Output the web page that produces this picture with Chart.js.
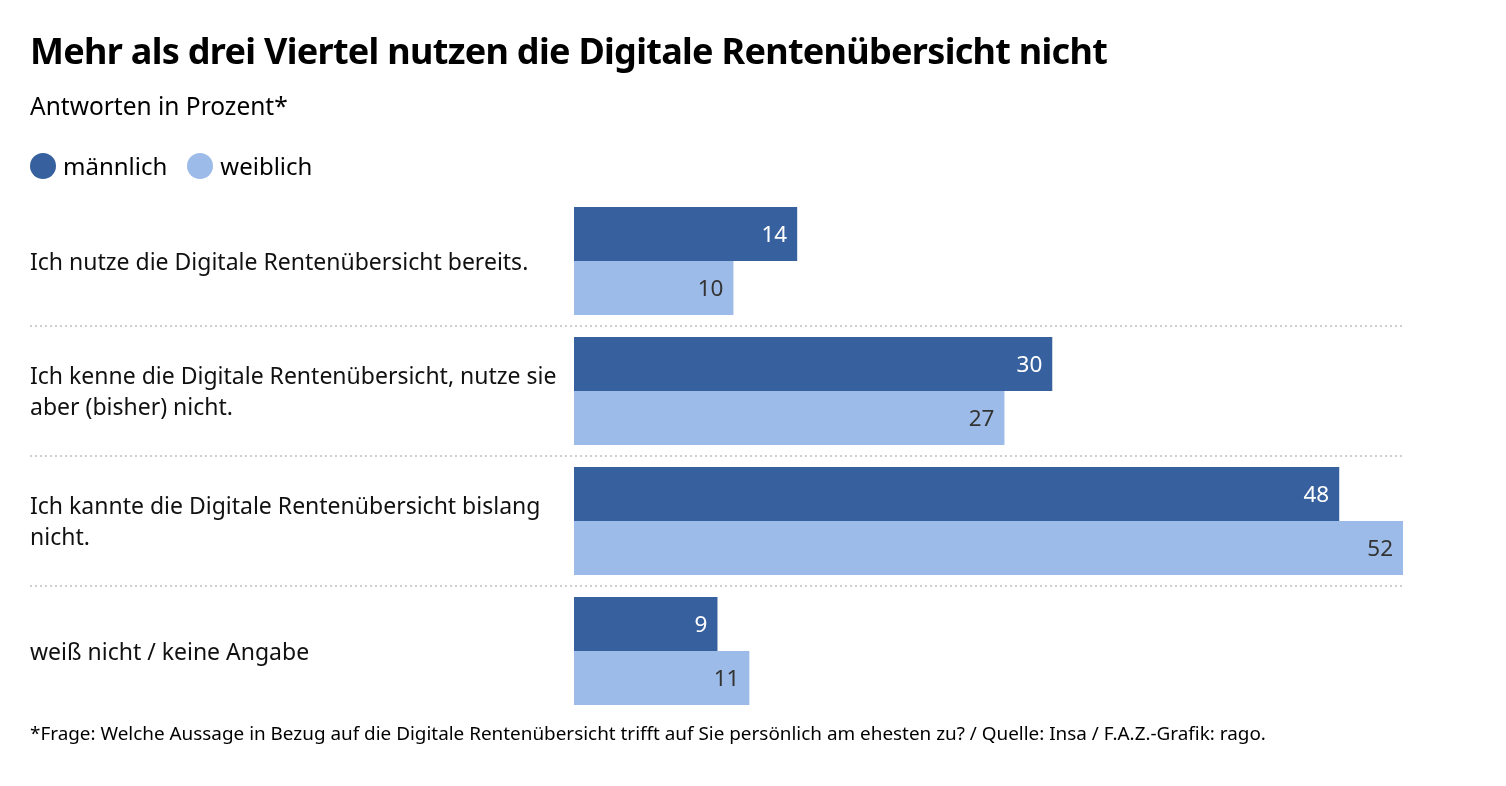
<!DOCTYPE html>
<html lang="de">
<head>
<meta charset="UTF-8">
<title>Digitale Rentenübersicht</title>
<script src="https://cdn.jsdelivr.net/npm/chart.js"></script>
<style>
    body {
        margin: 0;
        background: #fff;
        font-family: 'Noto Sans', sans-serif;
        color: #000;
    }
    .wrap {
        position: relative;
        width: 1506px;
        height: 786px;
        overflow: hidden;
    }
    #chart {
        position: absolute;
        left: 0;
        top: 0;
    }
    .title {
        position: absolute;
        left: 30px;
        top: 26px;
        font-size: 36px;
        font-weight: 700;
        letter-spacing: -0.7px;
        white-space: nowrap;
    }
    .subtitle {
        position: absolute;
        left: 30px;
        top: 89px;
        font-size: 24.5px;
        white-space: nowrap;
    }
    .legend {
        position: absolute;
        left: 30px;
        top: 149px;
        font-size: 24px;
        display: flex;
        align-items: center;
    }
    .legend .dot {
        width: 26px;
        height: 26px;
        border-radius: 50%;
        display: inline-block;
        margin-right: 7px;
    }
    .legend .item {
        display: flex;
        align-items: center;
        margin-right: 20px;
    }
    .note {
        position: absolute;
        left: 30px;
        top: 720px;
        font-size: 18.9px;
        white-space: nowrap;
    }
</style>
</head>
<body>
<div class="wrap">
    <canvas id="chart" width="1506" height="786"></canvas>
    <div class="title">Mehr als drei Viertel nutzen die Digitale Rentenübersicht nicht</div>
    <div class="subtitle">Antworten in Prozent*</div>
    <div class="legend">
        <div class="item"><span class="dot" style="background:#36609e"></span>männlich</div>
        <div class="item"><span class="dot" style="background:#9dbbe8"></span>weiblich</div>
    </div>
    <div class="note">*Frage: Welche Aussage in Bezug auf die Digitale Rentenübersicht trifft auf Sie persönlich am ehesten zu? / Quelle: Insa / F.A.Z.-Grafik: rago.</div>
</div>

<script>
    const categories = [
        'Ich nutze die Digitale Rentenübersicht bereits.',
        ['Ich kenne die Digitale Rentenübersicht, nutze sie', 'aber (bisher) nicht.'],
        ['Ich kannte die Digitale Rentenübersicht bislang', 'nicht.'],
        'weiß nicht / keine Angabe'
    ];
    const maennlich = [14, 30, 48, 9];
    const weiblich = [10, 27, 52, 11];

    const darkBlue = '#36609e';
    const lightBlue = '#9dbbe8';
    const fontFamily = "'Noto Sans', sans-serif";

    // value labels inside the end of each bar
    const barLabels = {
        id: 'barLabels',
        afterDatasetsDraw(chart) {
            const ctx = chart.ctx;
            ctx.save();
            ctx.font = '22.5px ' + fontFamily;
            ctx.textAlign = 'right';
            ctx.textBaseline = 'middle';
            chart.data.datasets.forEach((ds, i) => {
                const meta = chart.getDatasetMeta(i);
                ctx.fillStyle = i === 0 ? '#fff' : '#333';
                meta.data.forEach((bar, j) => {
                    ctx.fillText(ds.data[j], bar.x - 10, bar.y + 2);
                });
            });
            ctx.restore();
        }
    };

    // dotted separators between the categories
    const separators = {
        id: 'separators',
        beforeDatasetsDraw(chart) {
            const ctx = chart.ctx;
            const y = chart.scales.y;
            ctx.save();
            ctx.strokeStyle = '#cfcfcf';
            ctx.lineWidth = 2;
            ctx.setLineDash([2, 3]);
            for (let i = 0; i < categories.length - 1; i++) {
                const py = Math.round((y.getPixelForTick(i) + y.getPixelForTick(i + 1)) / 2);
                ctx.beginPath();
                ctx.moveTo(30, py);
                ctx.lineTo(chart.chartArea.right + 2, py);
                ctx.stroke();
            }
            ctx.restore();
        }
    };

    new Chart(document.getElementById('chart'), {
        type: 'bar',
        data: {
            labels: categories,
            datasets: [
                {
                    label: 'männlich',
                    data: maennlich,
                    backgroundColor: darkBlue,
                    categoryPercentage: 108 / 130,
                    barPercentage: 1.0
                },
                {
                    label: 'weiblich',
                    data: weiblich,
                    backgroundColor: lightBlue,
                    categoryPercentage: 108 / 130,
                    barPercentage: 1.0
                }
            ]
        },
        options: {
            indexAxis: 'y',
            responsive: false,
            animation: false,
            layout: {
                padding: { left: 30, top: 196, bottom: 70, right: 103 }
            },
            plugins: {
                legend: { display: false },
                tooltip: { enabled: false }
            },
            scales: {
                x: {
                    display: false,
                    min: 0,
                    max: 52
                },
                y: {
                    afterFit(scale) { scale.width = 544; },
                    grid: { display: false },
                    border: { display: false },
                    ticks: {
                        crossAlign: 'far',
                        labelOffset: 2,
                        color: '#111',
                        font: { family: fontFamily, size: 23, lineHeight: 1.35 }
                    }
                }
            }
        },
        plugins: [separators, barLabels]
    });
</script>
</body>
</html>
